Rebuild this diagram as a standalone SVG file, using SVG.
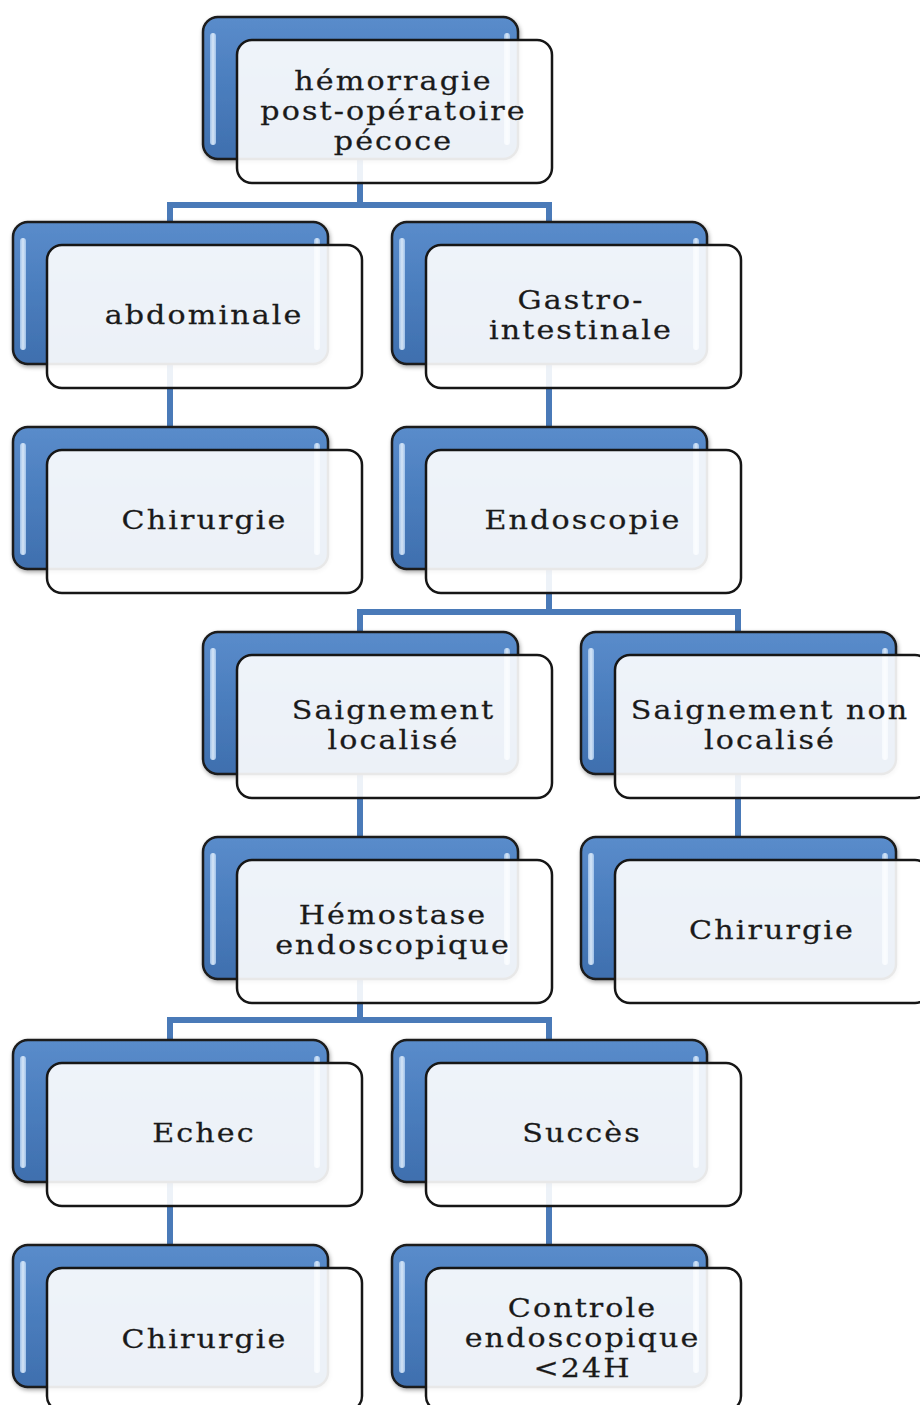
<svg xmlns="http://www.w3.org/2000/svg" width="920" height="1405" viewBox="0 0 920 1405">
<defs>
<linearGradient id="blue" x1="0" y1="0" x2="0" y2="1">
<stop offset="0" stop-color="#5a8ccb"/>
<stop offset="0.5" stop-color="#4a7dbd"/>
<stop offset="1" stop-color="#3f6fae"/>
</linearGradient>
<linearGradient id="hl" x1="0" y1="0" x2="1" y2="0">
<stop offset="0" stop-color="#a9c9ee"/>
<stop offset="0.5" stop-color="#e4f0fc"/>
<stop offset="1" stop-color="#a9c9ee"/>
</linearGradient>
<filter id="sh" x="-10%" y="-10%" width="130%" height="130%">
<feGaussianBlur in="SourceAlpha" stdDeviation="2"/>
<feOffset dx="1" dy="2"/>
<feComponentTransfer><feFuncA type="linear" slope="0.35"/></feComponentTransfer>
<feMerge><feMergeNode/><feMergeNode in="SourceGraphic"/></feMerge>
</filter>
</defs>
<style>
.back{fill:url(#blue);stroke:#1b1b1b;stroke-width:2.5}
.hl{fill:url(#hl);opacity:0.9}
.front{fill:#ffffff;fill-opacity:0.9;stroke:#161616;stroke-width:2.5}
.lbl{font-family:"DejaVu Serif","Liberation Serif",serif;font-size:26px;letter-spacing:1.8px;fill:#1a1a1a;stroke:#1a1a1a;stroke-width:0.25;text-anchor:middle}
.conn{fill:none;stroke:#4a7ab8;stroke-width:6}
</style>
<g id="connectors">
<path class="conn" d="M360 160 V205 M170 205 H549 M170 202 V222 M549 202 V222"/>
<path class="conn" d="M170 363 V427 M549 363 V427"/>
<path class="conn" d="M549 568 V612 M360 612 H738 M360 609 V632 M738 609 V632"/>
<path class="conn" d="M360 773 V837 M738 773 V837"/>
<path class="conn" d="M360 978 V1020 M170 1020 H549 M170 1017 V1040 M549 1017 V1040"/>
<path class="conn" d="M170 1181 V1245 M549 1181 V1245"/>
</g>
<g id="n-top" transform="translate(203,17)">
<rect class="back" width="315" height="142" rx="15" filter="url(#sh)"/>
<rect class="hl" x="7" y="16" width="6" height="112" rx="3"/>
<rect class="hl" x="301" y="16" width="6" height="112" rx="3"/>
<rect class="front" x="34" y="23" width="315" height="143" rx="15"/>
<text class="lbl" transform="translate(190.5,0) scale(1.16,1)" x="0" y="73">hémorragie<tspan x="0" dy="30">post-opératoire</tspan><tspan x="0" dy="30">pécoce</tspan></text>
</g>
<g id="n-abdominale" transform="translate(13,222)">
<rect class="back" width="315" height="142" rx="15" filter="url(#sh)"/>
<rect class="hl" x="7" y="16" width="6" height="112" rx="3"/>
<rect class="hl" x="301" y="16" width="6" height="112" rx="3"/>
<rect class="front" x="34" y="23" width="315" height="143" rx="15"/>
<text class="lbl" transform="translate(191,0) scale(1.16,1)" x="0" y="102">abdominale</text>
</g>
<g id="n-gastro" transform="translate(392,222)">
<rect class="back" width="315" height="142" rx="15" filter="url(#sh)"/>
<rect class="hl" x="7" y="16" width="6" height="112" rx="3"/>
<rect class="hl" x="301" y="16" width="6" height="112" rx="3"/>
<rect class="front" x="34" y="23" width="315" height="143" rx="15"/>
<text class="lbl" transform="translate(189,0) scale(1.16,1)" x="0" y="87.5">Gastro-<tspan x="0" dy="30">intestinale</tspan></text>
</g>
<g id="n-chir1" transform="translate(13,427)">
<rect class="back" width="315" height="142" rx="15" filter="url(#sh)"/>
<rect class="hl" x="7" y="16" width="6" height="112" rx="3"/>
<rect class="hl" x="301" y="16" width="6" height="112" rx="3"/>
<rect class="front" x="34" y="23" width="315" height="143" rx="15"/>
<text class="lbl" transform="translate(191.5,0) scale(1.16,1)" x="0" y="102">Chirurgie</text>
</g>
<g id="n-endoscopie" transform="translate(392,427)">
<rect class="back" width="315" height="142" rx="15" filter="url(#sh)"/>
<rect class="hl" x="7" y="16" width="6" height="112" rx="3"/>
<rect class="hl" x="301" y="16" width="6" height="112" rx="3"/>
<rect class="front" x="34" y="23" width="315" height="143" rx="15"/>
<text class="lbl" transform="translate(191,0) scale(1.16,1)" x="0" y="102">Endoscopie</text>
</g>
<g id="n-localise" transform="translate(203,632)">
<rect class="back" width="315" height="142" rx="15" filter="url(#sh)"/>
<rect class="hl" x="7" y="16" width="6" height="112" rx="3"/>
<rect class="hl" x="301" y="16" width="6" height="112" rx="3"/>
<rect class="front" x="34" y="23" width="315" height="143" rx="15"/>
<text class="lbl" transform="translate(190.5,0) scale(1.16,1)" x="0" y="87.5">Saignement<tspan x="0" dy="30">localisé</tspan></text>
</g>
<g id="n-nonlocalise" transform="translate(581,632)">
<rect class="back" width="315" height="142" rx="15" filter="url(#sh)"/>
<rect class="hl" x="7" y="16" width="6" height="112" rx="3"/>
<rect class="hl" x="301" y="16" width="6" height="112" rx="3"/>
<rect class="front" x="34" y="23" width="315" height="143" rx="15"/>
<text class="lbl" transform="translate(189,0) scale(1.16,1)" x="0" y="87.5">Saignement non<tspan x="0" dy="30">localisé</tspan></text>
</g>
<g id="n-hemostase" transform="translate(203,837)">
<rect class="back" width="315" height="142" rx="15" filter="url(#sh)"/>
<rect class="hl" x="7" y="16" width="6" height="112" rx="3"/>
<rect class="hl" x="301" y="16" width="6" height="112" rx="3"/>
<rect class="front" x="34" y="23" width="315" height="143" rx="15"/>
<text class="lbl" transform="translate(190,0) scale(1.16,1)" x="0" y="87.5">Hémostase<tspan x="0" dy="30">endoscopique</tspan></text>
</g>
<g id="n-chir2" transform="translate(581,837)">
<rect class="back" width="315" height="142" rx="15" filter="url(#sh)"/>
<rect class="hl" x="7" y="16" width="6" height="112" rx="3"/>
<rect class="hl" x="301" y="16" width="6" height="112" rx="3"/>
<rect class="front" x="34" y="23" width="315" height="143" rx="15"/>
<text class="lbl" transform="translate(191,0) scale(1.16,1)" x="0" y="102">Chirurgie</text>
</g>
<g id="n-echec" transform="translate(13,1040)">
<rect class="back" width="315" height="142" rx="15" filter="url(#sh)"/>
<rect class="hl" x="7" y="16" width="6" height="112" rx="3"/>
<rect class="hl" x="301" y="16" width="6" height="112" rx="3"/>
<rect class="front" x="34" y="23" width="315" height="143" rx="15"/>
<text class="lbl" transform="translate(191,0) scale(1.16,1)" x="0" y="102">Echec</text>
</g>
<g id="n-succes" transform="translate(392,1040)">
<rect class="back" width="315" height="142" rx="15" filter="url(#sh)"/>
<rect class="hl" x="7" y="16" width="6" height="112" rx="3"/>
<rect class="hl" x="301" y="16" width="6" height="112" rx="3"/>
<rect class="front" x="34" y="23" width="315" height="143" rx="15"/>
<text class="lbl" transform="translate(190,0) scale(1.16,1)" x="0" y="102">Succès</text>
</g>
<g id="n-chir3" transform="translate(13,1245)">
<rect class="back" width="315" height="142" rx="15" filter="url(#sh)"/>
<rect class="hl" x="7" y="16" width="6" height="112" rx="3"/>
<rect class="hl" x="301" y="16" width="6" height="112" rx="3"/>
<rect class="front" x="34" y="23" width="315" height="143" rx="15"/>
<text class="lbl" transform="translate(191.5,0) scale(1.16,1)" x="0" y="103">Chirurgie</text>
</g>
<g id="n-controle" transform="translate(392,1245)">
<rect class="back" width="315" height="142" rx="15" filter="url(#sh)"/>
<rect class="hl" x="7" y="16" width="6" height="112" rx="3"/>
<rect class="hl" x="301" y="16" width="6" height="112" rx="3"/>
<rect class="front" x="34" y="23" width="315" height="143" rx="15"/>
<text class="lbl" transform="translate(190.5,0) scale(1.16,1)" x="0" y="72">Controle<tspan x="0" dy="30">endoscopique</tspan><tspan x="0" dy="30">&lt;24H</tspan></text>
</g>
</svg>
